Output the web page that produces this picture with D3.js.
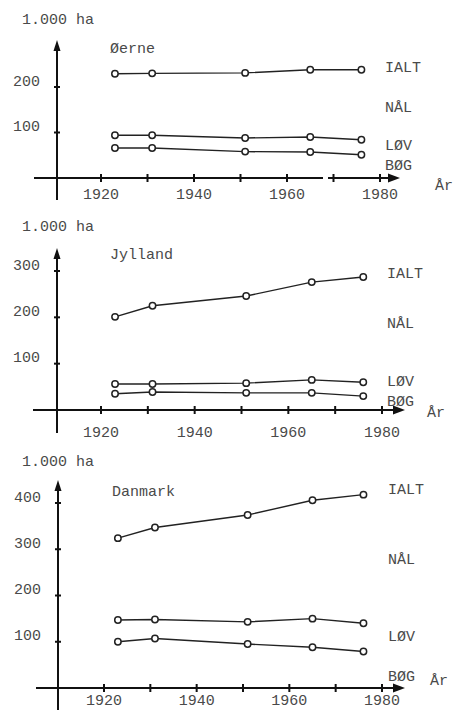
<!DOCTYPE html>
<html><head><meta charset="utf-8">
<script src="https://cdn.jsdelivr.net/npm/d3@7"></script>
<style>
html,body{margin:0;padding:0;background:#fff;}
svg{display:block;}
text{font-family:"Liberation Mono","DejaVu Sans Mono",monospace;font-size:15px;fill:#4a4a4a;}
</style></head>
<body>
<svg id="chart" width="453" height="710"></svg>
<script>
// ---- data (1.000 ha) ----
const years = [1923, 1931, 1951, 1965, 1976];
const xTickYears = [1920, 1930, 1940, 1950, 1960, 1970, 1980];
const xTickLabels = [1920, 1940, 1960, 1980];
const seriesNames = ["IALT", "LØV", "BØG"];
const labelNames = ["IALT", "NÅL", "LØV", "BØG"];

const oerneIalt = [229, 230, 231, 238, 238];
const oerneLov  = [94, 94, 88, 90, 84];
const oerneBog  = [66, 66, 58, 57, 51];

const jyllandIalt = [201, 225, 246, 276, 287];
const jyllandLov  = [56, 56, 58, 65, 60];
const jyllandBog  = [35, 39, 37, 37, 30];

const danmarkIalt = [324, 347, 374, 406, 418];
const danmarkLov  = [147, 148, 143, 150, 140];
const danmarkBog  = [100, 107, 95, 88, 79];

const oerneTicks = [100, 200];
const jyllandTicks = [100, 200, 300];
const danmarkTicks = [100, 200, 300, 400];

// ---- layout ----
const panels = [
  {title:"Øerne", series:[oerneIalt, oerneLov, oerneBog], ticks:oerneTicks,
   yDom:[0,200], yRange:[178,87], xRange:[101,380], axisX:57, axisTop:40, axisBottom:200,
   xStart:34, xEnd:400, unitY:20, titleY:49, titleX:110, xLabY:195,
   labY:[68,108,146,166], labX:385, arX:435, arY:186, gap:[323,328]},
  {title:"Jylland", series:[jyllandIalt, jyllandLov, jyllandBog], ticks:jyllandTicks,
   yDom:[0,300], yRange:[410,271], xRange:[101,382], axisX:57, axisTop:248, axisBottom:433,
   xStart:33, xEnd:405, unitY:227, titleY:255, titleX:110, xLabY:433,
   labY:[274,324,382,402], labX:387, arX:427, arY:413, gap:null},
  {title:"Danmark", series:[danmarkIalt, danmarkLov, danmarkBog], ticks:danmarkTicks,
   yDom:[0,400], yRange:[688,503], xRange:[104,382], axisX:58, axisTop:480, axisBottom:712,
   xStart:36, xEnd:405, unitY:462, titleY:492, titleX:112, xLabY:701,
   labY:[490,560,637,677], labX:388, arX:430, arY:681, gap:null}
];

const svg = d3.select("#chart");
const ink = "#111";

panels.forEach(p => {
  const g = svg.append("g");
  const x = d3.scaleLinear().domain([1920,1980]).range(p.xRange);
  const y = d3.scaleLinear().domain(p.yDom).range(p.yRange);
  const x0 = y(0);

  // x axis line
  g.append("line").attr("x1",p.xStart).attr("x2",p.xEnd-8).attr("y1",x0).attr("y2",x0)
    .attr("stroke",ink).attr("stroke-width",2);
  if (p.gap) {
    g.append("rect").attr("x",p.gap[0]).attr("y",x0-2).attr("width",p.gap[1]-p.gap[0]).attr("height",4).attr("fill","#fff");
  }
  g.append("path").attr("d",`M${p.xEnd},${x0} L${p.xEnd-12},${x0-4.5} L${p.xEnd-12},${x0+4.5} Z`).attr("fill",ink);
  // x ticks
  g.selectAll(".xt").data(xTickYears).enter().append("line")
    .attr("x1",d=>x(d)).attr("x2",d=>x(d)).attr("y1",x0-4).attr("y2",x0+4)
    .attr("stroke",ink).attr("stroke-width",2);
  g.selectAll(".xl").data(xTickLabels).enter().append("text")
    .attr("x",d=>x(d)).attr("y",p.xLabY).attr("text-anchor","middle").attr("dominant-baseline","central")
    .text(d=>d);

  // y axis
  g.append("line").attr("x1",p.axisX).attr("x2",p.axisX).attr("y1",p.axisTop+9).attr("y2",p.axisBottom)
    .attr("stroke",ink).attr("stroke-width",2);
  g.append("path").attr("d",`M${p.axisX},${p.axisTop} L${p.axisX-3.5},${p.axisTop+11} L${p.axisX+3.5},${p.axisTop+11} Z`).attr("fill",ink);
  g.selectAll(".yt").data(p.ticks).enter().append("line")
    .attr("x1",p.axisX-3).attr("x2",p.axisX+3).attr("y1",d=>y(d)).attr("y2",d=>y(d))
    .attr("stroke",ink).attr("stroke-width",2);
  g.selectAll(".yl").data(p.ticks).enter().append("text")
    .attr("x",p.axisX-17).attr("y",d=>y(d)-5).attr("text-anchor","end").attr("dominant-baseline","central")
    .text(d=>d);

  // unit + title
  g.append("text").attr("x",22).attr("y",p.unitY).attr("dominant-baseline","central").text("1.000 ha");
  g.append("text").attr("x",p.titleX).attr("y",p.titleY).attr("dominant-baseline","central").text(p.title);

  // series
  const line = d3.line().x((d,i)=>x(years[i])).y(d=>y(d));
  p.series.forEach(vals => {
    g.append("path").datum(vals).attr("d",line).attr("fill","none").attr("stroke","#222").attr("stroke-width",1.4);
    g.selectAll(null).data(vals).enter().append("circle")
      .attr("cx",(d,i)=>x(years[i])).attr("cy",d=>y(d)).attr("r",3.2)
      .attr("fill","#fff").attr("stroke","#222").attr("stroke-width",1.5);
  });

  // right labels
  labelNames.forEach((n,i) => {
    g.append("text").attr("x",p.labX).attr("y",p.labY[i]).attr("dominant-baseline","central").text(n);
  });
  g.append("text").attr("x",p.arX).attr("y",p.arY).attr("dominant-baseline","central").text("År");
});
</script>
</body></html>
